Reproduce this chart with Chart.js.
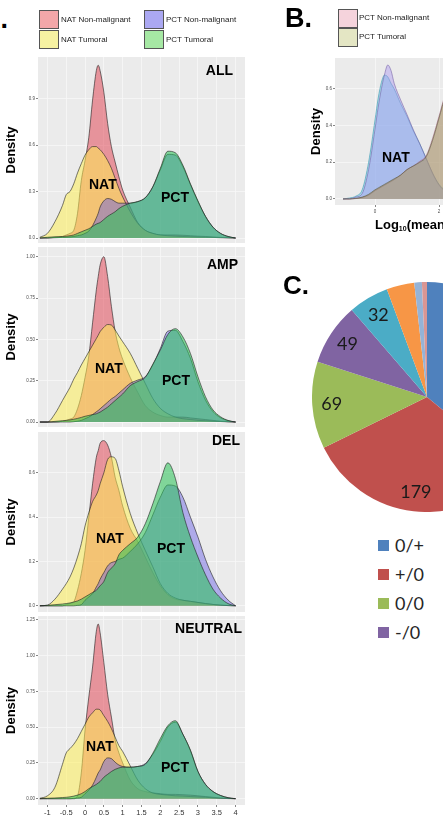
<!DOCTYPE html>
<html>
<head>
<meta charset="utf-8">
<title>Density plots and pie chart</title>
<script src="https://cdn.jsdelivr.net/npm/chart.js@4.4.1/dist/chart.umd.min.js"></script>
<style>
html,body{margin:0;padding:0;background:#fff;}
body{width:443px;height:819px;overflow:hidden;position:relative;font-family:"Liberation Sans",Arial,Helvetica,sans-serif;color:#111;}
canvas{position:absolute;display:block;}
.t{position:absolute;white-space:nowrap;}
.big{font-weight:bold;font-size:27px;line-height:27px;color:#000;}
.ptitle{font-weight:bold;font-size:14px;line-height:14px;color:#000;text-align:right;width:100px;}
.grp{font-weight:bold;font-size:14px;line-height:14px;color:#000;}
.lg{font-size:8px;line-height:10px;color:#222;}
.sw{position:absolute;width:20px;height:19px;border:1px solid #555;box-sizing:border-box;}
.clg{font-family:Lato,"Open Sans",sans-serif;font-size:18px;line-height:20px;color:#262626;}
.csw{position:absolute;width:11px;height:11px;}
</style>
</head>
<body>
<canvas id="cALL" width="250" height="186" style="left:0;top:57px"></canvas>
<canvas id="cAMP" width="250" height="180" style="left:0;top:247px"></canvas>
<canvas id="cDEL" width="250" height="180" style="left:0;top:432px"></canvas>
<canvas id="cNEU" width="250" height="203" style="left:0;top:616px"></canvas>
<canvas id="cB" width="206" height="159" style="left:305px;top:58px"></canvas>
<canvas id="cC" width="230" height="230" style="left:312px;top:282px"></canvas>

<div class="t big" style="left:-19px;top:6px">A.</div>
<div class="t big" style="left:285px;top:5px">B.</div>
<div class="t big" style="left:283px;top:272px;font-size:26px;line-height:26px">C.</div>

<div id="legA"></div>
<div id="legB"></div>
<div id="legC"></div>

<div class="t ptitle" style="left:133px;top:63px">ALL</div>
<div class="t ptitle" style="left:138px;top:257px">AMP</div>
<div class="t ptitle" style="left:140px;top:433px">DEL</div>
<div class="t ptitle" style="left:142px;top:621px">NEUTRAL</div>

<div class="t grp" style="left:89px;top:177px">NAT</div>
<div class="t grp" style="left:161px;top:190px">PCT</div>
<div class="t grp" style="left:95px;top:361px">NAT</div>
<div class="t grp" style="left:162px;top:373px">PCT</div>
<div class="t grp" style="left:96px;top:531px">NAT</div>
<div class="t grp" style="left:157px;top:541px">PCT</div>
<div class="t grp" style="left:86px;top:739px">NAT</div>
<div class="t grp" style="left:161px;top:760px">PCT</div>
<div class="t grp" style="left:382px;top:150px">NAT</div>

<div class="t" style="left:375px;top:218px;font-weight:bold;font-size:13px;line-height:14px;color:#000">Log<span style="font-size:7px;vertical-align:-2px">10</span>(mean expression)</div>

<script>
// ---------------- Panel A: density curves ----------------
const X = [-1.2,-1.0,-0.8,-0.6,-0.5,-0.4,-0.3,-0.2,-0.1,0,0.1,0.2,0.3,0.35,0.4,0.5,0.6,0.7,0.8,0.9,1.0,1.2,1.4,1.6,1.8,2.0,2.2,2.4,2.6,2.8,3.0,3.2,3.4,3.6,3.8,4.0];
const A_SERIES = ['NAT Non-malignant','NAT Tumoral','PCT Non-malignant','PCT Tumoral'];

const ALL_NAT_NM = [0,0,0.005,0.01,0.02,0.03,0.05,0.16,0.37,0.5,0.65,0.89,1.08,1.115,1.08,0.94,0.74,0.59,0.49,0.395,0.31,0.2,0.1,0.05,0.03,0.02,0.02,0.02,0.018,0.015,0.012,0.01,0.007,0.004,0.002,0];
const ALL_NAT_T  = [0.005,0.03,0.105,0.21,0.28,0.3,0.35,0.42,0.48,0.535,0.57,0.59,0.59,0.58,0.57,0.54,0.5,0.45,0.385,0.32,0.265,0.17,0.095,0.05,0.03,0.02,0.015,0.012,0.01,0.008,0.006,0.005,0.004,0.002,0.001,0];
const ALL_PCT_NM = [0,0,0.002,0.004,0.005,0.007,0.01,0.015,0.02,0.03,0.045,0.08,0.13,0.16,0.2,0.24,0.255,0.25,0.235,0.225,0.225,0.225,0.235,0.26,0.33,0.44,0.54,0.535,0.46,0.345,0.235,0.14,0.07,0.03,0.01,0];
const ALL_PCT_T  = [0,0.005,0.008,0.01,0.012,0.015,0.02,0.03,0.04,0.05,0.06,0.075,0.09,0.095,0.1,0.12,0.14,0.155,0.17,0.19,0.205,0.225,0.235,0.26,0.33,0.45,0.56,0.55,0.47,0.35,0.24,0.14,0.07,0.03,0.01,0];

const AMP_NAT_NM = [0,0,0,0.005,0.01,0.018,0.03,0.08,0.16,0.27,0.4,0.6,0.8,0.88,0.95,1.0,0.88,0.7,0.55,0.45,0.38,0.27,0.18,0.1,0.06,0.04,0.03,0.03,0.03,0.025,0.02,0.015,0.01,0.005,0.002,0];
const AMP_NAT_T  = [0,0,0.05,0.13,0.17,0.21,0.26,0.3,0.345,0.385,0.425,0.465,0.505,0.525,0.547,0.573,0.59,0.587,0.557,0.52,0.486,0.416,0.325,0.234,0.143,0.083,0.05,0.03,0.02,0.015,0.01,0.008,0.005,0.003,0.001,0];
const AMP_PCT_NM = [0,0,0,0,0,0,0.002,0.005,0.01,0.02,0.03,0.045,0.062,0.07,0.08,0.1,0.12,0.14,0.155,0.175,0.195,0.234,0.254,0.274,0.345,0.445,0.55,0.555,0.487,0.386,0.244,0.133,0.063,0.026,0.008,0];
const AMP_PCT_T  = [0,0,0.004,0.008,0.01,0.013,0.017,0.022,0.028,0.035,0.04,0.045,0.05,0.055,0.06,0.075,0.09,0.11,0.13,0.15,0.17,0.22,0.245,0.27,0.35,0.435,0.53,0.565,0.515,0.415,0.274,0.153,0.073,0.032,0.01,0];

const DEL_NAT_NM = [0,0,0,0,0.005,0.01,0.018,0.07,0.146,0.25,0.4,0.55,0.67,0.7,0.733,0.745,0.725,0.67,0.58,0.52,0.45,0.35,0.29,0.22,0.15,0.09,0.05,0.03,0.025,0.02,0.015,0.01,0.006,0.003,0.001,0];
const DEL_NAT_T  = [0,0.003,0.03,0.075,0.1,0.13,0.17,0.22,0.28,0.36,0.42,0.47,0.5,0.52,0.55,0.6,0.66,0.672,0.665,0.61,0.537,0.417,0.327,0.25,0.176,0.1,0.056,0.035,0.025,0.02,0.015,0.01,0.006,0.003,0.001,0];
const DEL_PCT_NM = [0,0,0,0,0,0,0,0.002,0.005,0.025,0.04,0.055,0.085,0.1,0.12,0.15,0.18,0.195,0.2,0.21,0.215,0.245,0.28,0.33,0.41,0.49,0.545,0.54,0.49,0.4,0.31,0.21,0.13,0.068,0.026,0];
const DEL_PCT_T  = [0,0.002,0.005,0.008,0.01,0.013,0.017,0.022,0.03,0.04,0.05,0.06,0.07,0.08,0.09,0.11,0.15,0.17,0.19,0.23,0.25,0.28,0.31,0.37,0.46,0.56,0.645,0.575,0.42,0.31,0.22,0.14,0.075,0.035,0.01,0];

const NEU_NAT_NM = [0,0,0,0,0,0,0,0.02,0.18,0.48,0.71,0.92,1.17,1.22,1.16,0.95,0.73,0.57,0.41,0.32,0.25,0.13,0.07,0.05,0.04,0.035,0.03,0.03,0.028,0.025,0.02,0.015,0.01,0.005,0.002,0];
const NEU_NAT_T  = [0.003,0.02,0.08,0.24,0.32,0.35,0.38,0.42,0.47,0.52,0.57,0.6,0.625,0.625,0.62,0.58,0.54,0.49,0.43,0.37,0.33,0.23,0.13,0.07,0.04,0.03,0.025,0.02,0.018,0.015,0.012,0.01,0.006,0.003,0.001,0];
const NEU_PCT_NM = [0,0,0,0,0,0,0.002,0.005,0.01,0.035,0.06,0.095,0.15,0.18,0.2,0.26,0.285,0.28,0.255,0.235,0.225,0.22,0.225,0.245,0.31,0.4,0.5,0.535,0.45,0.335,0.19,0.1,0.05,0.022,0.007,0];
const NEU_PCT_T  = [0,0.003,0.005,0.008,0.01,0.013,0.018,0.025,0.035,0.05,0.07,0.085,0.1,0.11,0.12,0.15,0.17,0.19,0.205,0.215,0.22,0.22,0.225,0.24,0.317,0.42,0.51,0.545,0.45,0.34,0.19,0.1,0.05,0.023,0.007,0];

const X_TICKS = [-1,-0.5,0,0.5,1,1.5,2,2.5,3,3.5,4];
const X_TICK_LABELS = ['-1','-0.5','0','0.5','1','1.5','2','2.5','3','3.5','4'];
const ALL_Y_TICKS = [0,0.3,0.6,0.9];            const ALL_Y_LABELS = ['0.0','0.3','0.6','0.9'];
const AMP_Y_TICKS = [0,0.25,0.5,0.75,1.0];      const AMP_Y_LABELS = ['0.00','0.25','0.50','0.75','1.00'];
const DEL_Y_TICKS = [0,0.2,0.4,0.6];            const DEL_Y_LABELS = ['0.0','0.2','0.4','0.6'];
const NEU_Y_TICKS = [0,0.25,0.5,0.75,1.0,1.25]; const NEU_Y_LABELS = ['0.00','0.25','0.50','0.75','1.00','1.25'];

// ---------------- Panel B ----------------
const B_X = [-1.0,-0.8,-0.6,-0.4,-0.2,0,0.1,0.2,0.3,0.4,0.5,0.6,0.8,1.0,1.2,1.4,1.6,1.8,2.0,2.2,2.4];
const B_NAT_T  = [0,0.005,0.015,0.05,0.2,0.43,0.55,0.635,0.675,0.665,0.63,0.6,0.52,0.45,0.37,0.3,0.22,0.14,0.08,0.045,0.025];
const B_NAT_NM = [0,0,0.01,0.03,0.16,0.38,0.5,0.6,0.68,0.73,0.7,0.63,0.54,0.46,0.376,0.3,0.22,0.14,0.076,0.04,0.02];
const B_PCT_NM = [0,0,0.002,0.008,0.02,0.045,0.055,0.065,0.075,0.085,0.095,0.105,0.13,0.16,0.18,0.205,0.235,0.33,0.45,0.57,0.63];
const B_PCT_T  = [0,0,0.003,0.01,0.025,0.05,0.06,0.07,0.08,0.09,0.1,0.11,0.13,0.16,0.18,0.2,0.23,0.32,0.44,0.56,0.62];
const B_LEGEND = ['PCT Non-malignant','PCT Tumoral'];
const B_X_TICKS = [0,2];          const B_X_LABELS = ['0','2'];
const B_Y_TICKS = [0,0.2,0.4,0.6]; const B_Y_LABELS = ['0.0','0.2','0.4','0.6'];

// ---------------- Panel C: pie ----------------
const C_LABELS = ['0/+','+/0','0/0','-/0','0/-','+/+','-/-','+/-'];
const C_VALUES = [203,179,69,49,32,22,6,4];
const C_LEGEND_SHOWN = 4;

// ---------------- styles ----------------
Chart.defaults.font.family = '"Liberation Sans", Arial, Helvetica, sans-serif';
const A_STYLE = [
  {fill:'rgba(225,60,75,0.5)',   key:'#F3A7A9', order:4},
  {fill:'rgba(255,240,80,0.52)', key:'#F6F2A2', order:3},
  {fill:'rgba(100,90,230,0.45)', key:'#ABA8F2', order:2},
  {fill:'rgba(40,195,85,0.55)',  key:'#A6E8A4', order:1}
];
const B_STYLE = [
  {fill:'rgba(90,200,230,0.45)',  line:'rgba(40,140,170,0.9)', order:4},
  {fill:'rgba(170,150,240,0.45)', line:'rgba(110,90,160,0.9)', order:3},
  {fill:'rgba(240,160,190,0.35)', line:'rgba(150,90,110,0.9)', order:2, key:'#F5D3DC'},
  {fill:'rgba(150,150,90,0.5)',   line:'rgba(80,80,50,0.9)',   order:1, key:'#E4E6C4'}
];
const C_COLORS = ['#4F81BD','#C0504D','#9BBB59','#8064A2','#4BACC6','#F79646','#95B3D7','#D99694'];

const panelBg = {
  id:'panelBg',
  beforeDraw(chart, args, opts){
    const {ctx, chartArea:a} = chart;
    ctx.save();
    ctx.fillStyle = opts.color || '#EBEBEB';
    ctx.fillRect(a.left, a.top, a.right - a.left, a.bottom - a.top);
    ctx.restore();
  }
};

function yScale(cfg){
  return {
    min: cfg.ymin, max: cfg.ymax,
    afterBuildTicks: s => { s.ticks = cfg.yTicks.map(v => ({value:v})); },
    ticks:{callback:(v,i)=>cfg.yLabels[i], font:{size:4.5}, color:'#4d4d4d', padding:1, autoSkip:false},
    grid:{color:'#F7F7F7', lineWidth:0.8, tickLength:2, tickColor:'#666'},
    border:{display:false},
    title:{display:true, text:'Density', color:'#000', font:{size:13, weight:'bold'}, padding:{top:cfg.titlePad, bottom:0}},
    afterFit: s => { s.width = cfg.axisW; s.paddingTop = 0; s.paddingBottom = 0; }
  };
}

function densityChart(id, series, cfg){
  const datasets = series.map((ys, i) => ({
    label: A_SERIES[i],
    data: X.map((x, j) => ({x, y: ys[j]})),
    backgroundColor: A_STYLE[i].fill,
    borderColor: 'rgba(30,30,30,0.85)',
    borderWidth: 0.7,
    fill: 'origin',
    order: A_STYLE[i].order,
    pointRadius: 0,
    cubicInterpolationMode: 'monotone'
  }));
  return new Chart(document.getElementById(id), {
    type:'line',
    data:{datasets},
    options:{
      responsive:false, animation:false, events:[], devicePixelRatio:1,
      layout:{padding:{left:0, right:5, top:0, bottom:0}},
      plugins:{legend:{display:false}, tooltip:{enabled:false}, panelBg:{color:'#EBEBEB'}},
      scales:{
        x:{type:'linear', min:-1.25, max:4.25,
           afterBuildTicks: s => { s.ticks = X_TICKS.map(v => ({value:v})); },
           ticks:{display:cfg.showX, callback:(v,i)=>X_TICK_LABELS[i], font:{size:7.5}, color:'#333', padding:1, maxRotation:0, autoSkip:false},
           grid:{color:'#F7F7F7', lineWidth:0.8, drawTicks:cfg.showX, tickLength:2, tickColor:'#666'},
           border:{display:false},
           afterFit: s => { s.height = cfg.showX ? 14 : 0; s.paddingLeft = 0; s.paddingRight = 0; }
        },
        y: yScale(Object.assign({axisW:38, titlePad:4}, cfg))
      }
    },
    plugins:[panelBg]
  });
}

densityChart('cALL', [ALL_NAT_NM, ALL_NAT_T, ALL_PCT_NM, ALL_PCT_T], {showX:false, ymin:-0.032, ymax:1.168, yTicks:ALL_Y_TICKS, yLabels:ALL_Y_LABELS});
densityChart('cAMP', [AMP_NAT_NM, AMP_NAT_T, AMP_PCT_NM, AMP_PCT_T], {showX:false, ymin:-0.03, ymax:1.059, yTicks:AMP_Y_TICKS, yLabels:AMP_Y_LABELS});
densityChart('cDEL', [DEL_NAT_NM, DEL_NAT_T, DEL_PCT_NM, DEL_PCT_T], {showX:false, ymin:-0.028, ymax:0.784, yTicks:DEL_Y_TICKS, yLabels:DEL_Y_LABELS});
densityChart('cNEU', [NEU_NAT_NM, NEU_NAT_T, NEU_PCT_NM, NEU_PCT_T], {showX:true, ymin:-0.044, ymax:1.276, yTicks:NEU_Y_TICKS, yLabels:NEU_Y_LABELS});

// Panel B chart
(function(){
  const series = [B_NAT_T, B_NAT_NM, B_PCT_NM, B_PCT_T];
  const names = ['NAT Tumoral','NAT Non-malignant','PCT Non-malignant','PCT Tumoral'];
  const datasets = series.map((ys, i) => ({
    label: names[i],
    data: B_X.map((x, j) => ({x, y: ys[j]})),
    backgroundColor: B_STYLE[i].fill,
    borderColor: B_STYLE[i].line,
    borderWidth: 0.6,
    fill:'origin',
    order: B_STYLE[i].order,
    pointRadius:0,
    cubicInterpolationMode:'monotone'
  }));
  new Chart(document.getElementById('cB'), {
    type:'line',
    data:{datasets},
    options:{
      responsive:false, animation:false, events:[], devicePixelRatio:1,
      layout:{padding:0},
      plugins:{legend:{display:false}, tooltip:{enabled:false}, panelBg:{color:'#EBEBEB'}},
      scales:{
        x:{type:'linear', min:-1.25, max:4.25,
           afterBuildTicks: s => { s.ticks = B_X_TICKS.map(v => ({value:v})); },
           ticks:{callback:(v,i)=>B_X_LABELS[i], font:{size:4.5}, color:'#4d4d4d', padding:2, maxRotation:0, autoSkip:false},
           grid:{color:'#F7F7F7', lineWidth:0.8, tickLength:2, tickColor:'#666'},
           border:{display:false},
           afterFit: s => { s.height = 12; s.paddingLeft = 0; s.paddingRight = 0; }
        },
        y: yScale({axisW:30, titlePad:4, ymin:-0.033, ymax:0.768, yTicks:B_Y_TICKS, yLabels:B_Y_LABELS})
      }
    },
    plugins:[panelBg]
  });
})();

// Panel C pie
const sliceLabels = {
  id:'sliceLabels',
  afterDatasetsDraw(chart, args, opts){
    const {ctx} = chart;
    const meta = chart.getDatasetMeta(0);
    const vals = chart.data.datasets[0].data;
    ctx.save();
    ctx.font = opts.font; ctx.fillStyle = opts.color;
    ctx.textAlign = 'center'; ctx.textBaseline = 'middle';
    meta.data.forEach((arc, i) => {
      if (vals[i] < opts.minValue) return;
      const p = arc.getProps(['x','y','startAngle','endAngle','outerRadius'], true);
      const a = (p.startAngle + p.endAngle) / 2, r = p.outerRadius * opts.radius;
      ctx.fillText(String(vals[i]), p.x + Math.cos(a) * r, p.y + Math.sin(a) * r);
    });
    ctx.restore();
  }
};
new Chart(document.getElementById('cC'), {
  type:'pie',
  data:{labels:C_LABELS, datasets:[{data:C_VALUES, backgroundColor:C_COLORS, borderWidth:0}]},
  options:{
    responsive:false, animation:false, events:[], devicePixelRatio:1,
    layout:{padding:0},
    plugins:{legend:{display:false}, tooltip:{enabled:false},
      sliceLabels:{font:'18px Lato, "Open Sans", sans-serif', color:'#1a1a1a', radius:0.83, minValue:30}}
  },
  plugins:[sliceLabels]
});

// ---------------- HTML legends ----------------
(function(){
  const legA = document.getElementById('legA');
  const pos = [[39,10],[39,30],[144,10],[144,30]];
  A_SERIES.forEach((name, i) => {
    const [x, y] = pos[i];
    legA.insertAdjacentHTML('beforeend',
      `<div class="sw" style="left:${x}px;top:${y}px;background:${A_STYLE[i].key}"></div>` +
      `<div class="t lg" style="left:${x+22}px;top:${y+5}px">${name}</div>`);
  });
  const legB = document.getElementById('legB');
  B_LEGEND.forEach((name, i) => {
    const x = 338, y = 9 + i * 19;
    legB.insertAdjacentHTML('beforeend',
      `<div class="sw" style="left:${x}px;top:${y}px;background:${B_STYLE[i+2].key}"></div>` +
      `<div class="t lg" style="left:${x+21}px;top:${y+4}px">${name}</div>`);
  });
  const legC = document.getElementById('legC');
  for (let i = 0; i < C_LEGEND_SHOWN; i++) {
    const y = 540 + i * 29;
    legC.insertAdjacentHTML('beforeend',
      `<div class="csw" style="left:378px;top:${y}px;background:${C_COLORS[i]}"></div>` +
      `<div class="t clg" style="left:395px;top:${y-5}px">${C_LABELS[i]}</div>`);
  }
})();
</script>
</body>
</html>
